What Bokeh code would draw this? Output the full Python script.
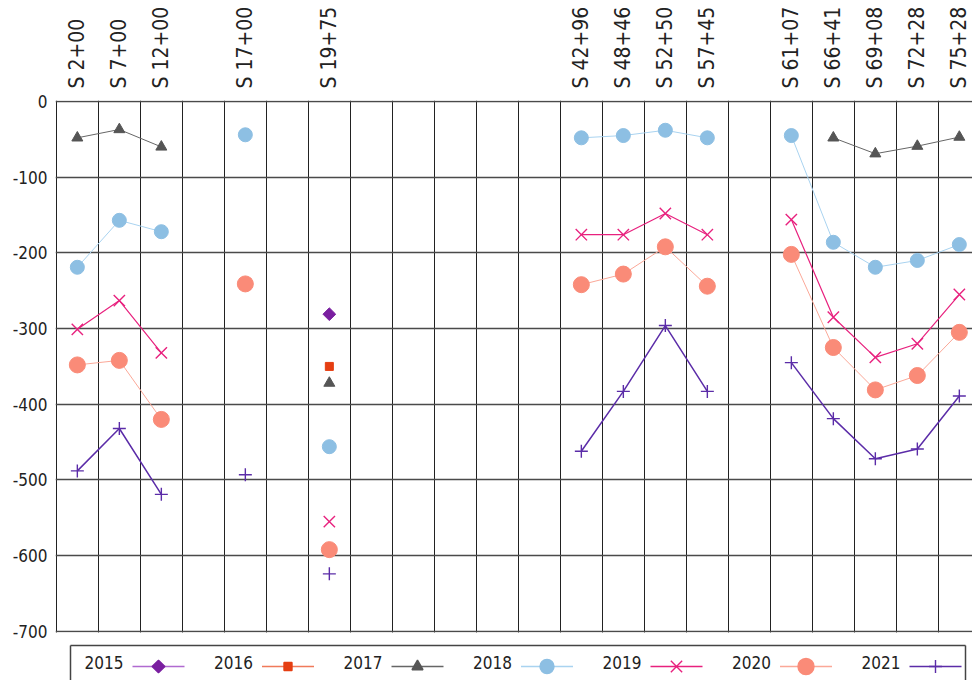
from bokeh.plotting import figure
from bokeh.models import FixedTicker, Range1d, ColumnDataSource
from bokeh.embed import file_html
from bokeh.resources import INLINE
from bokeh.core.properties import value

N = float("nan")

# ---- data ----
stations = ["S 2+00", "S 7+00", "S 12+00", "", "S 17+00", "", "S 19+75",
            "", "", "", "", "", "S 42+96", "S 48+46", "S 52+50", "S 57+45",
            "", "S 61+07", "S 66+41", "S 69+08", "S 72+28", "S 75+28"]
years = ["2015", "2016", "2017", "2018", "2019", "2020", "2021"]
v2015 = [N, N, N, N, N, N, -281, N, N, N, N, N, N, N, N, N, N, N, N, N, N, N]
v2016 = [N, N, N, N, N, N, -350, N, N, N, N, N, N, N, N, N, N, N, N, N, N, N]
v2017 = [-48, -37, -60, N, N, N, -372, N, N, N, N, N, N, N, N, N, N, N, -48, -69, -59, -47]
v2018 = [-219, -157, -172, N, -44, N, -456, N, N, N, N, N, -48, -45, -38, -48, N, -45, -186, -219, -210, -189]
v2019 = [-301, -263, -332, N, -241, N, -555, N, N, N, N, N, -176, -176, -148, -176, N, -156, -285, -338, -320, -255]
v2020 = [-348, -342, -420, N, -241, N, -592, N, N, N, N, N, -242, -228, -192, -244, N, -202, -325, -381, -362, -305]
v2021 = [-488, -432, -519, N, -493, N, -624, N, N, N, N, N, -462, -383, -296, -383, N, -345, -419, -472, -459, -389]
y_ticks = [0, -100, -200, -300, -400, -500, -600, -700]

series = [v2015, v2016, v2017, v2018, v2019, v2020, v2021]

# ---- styles ----
FONT = "DejaVu Sans Condensed, Roboto, sans-serif"
styles = [
    dict(marker="square", angle=0.785398, fill="#7a1fa0", line="#b06ad0", size=9, lw=1.0),
    dict(marker="square", angle=0.0, fill="#e53e12", line="#f07a5a", size=8, lw=1.0),
    dict(marker="triangle", angle=0.0, fill="#555555", line="#666666", size=11, lw=1.0),
    dict(marker="circle", angle=0.0, fill="#8dbfe3", line="#a9d3f0", size=14, lw=1.0),
    dict(marker="x", angle=0.0, fill="#e8217e", line="#e8217e", size=16, lw=1.2),
    dict(marker="circle", angle=0.0, fill="#fa8b78", line="#fba898", size=16, lw=1.0),
    dict(marker="cross", angle=0.0, fill="#5b2ca8", line="#5b2ca8", size=13, lw=1.5),
]

# ---- layout ----
W, H = 972, 680
BL, BT = 55, 100                    # frame left / top offsets in the canvas
SX, SY = 42.0, 0.757                # px per slot, px per unit
X0 = -0.52
X1 = X0 + (W - BL) / SX
Y1 = 1.3
Y0 = Y1 - (H - BT) / SY             # area below -700 holds the legend


def px_x(px):   # canvas px -> data x (legend layout only)
    return X0 + (px - BL) / SX


def px_y(py):   # canvas px -> data y (legend layout only)
    return Y1 - (py - BT) / SY


xs = list(range(len(stations)))

p = figure(width=W, height=H, output_backend="svg", toolbar_location=None,
           x_axis_location="above",
           x_range=Range1d(X0, X1), y_range=Range1d(Y0, Y1),
           min_border_left=BL, min_border_top=BT, min_border_right=0,
           min_border_bottom=0)
p.outline_line_color = None
p.background_fill_color = "white"

p.xaxis.ticker = FixedTicker(ticks=[i for i, s in enumerate(stations) if s])
p.xaxis.major_label_overrides = {i: s for i, s in enumerate(stations) if s}
p.xaxis.major_label_orientation = "vertical"
p.xaxis.axis_line_color = None
p.xaxis.major_tick_line_color = None
p.xaxis.minor_tick_line_color = None
p.xaxis.major_tick_out = 0
p.xaxis.major_tick_in = 0
p.xaxis.minor_tick_out = 0
p.xaxis.major_label_standoff = 12
p.xaxis.major_label_text_font = FONT
p.xaxis.major_label_text_font_size = "21px"
p.xaxis.major_label_text_color = "#222222"

p.yaxis.ticker = FixedTicker(ticks=y_ticks)
p.yaxis.major_label_overrides = {t: str(t) for t in y_ticks}
p.yaxis.axis_line_color = None
p.yaxis.major_tick_line_color = None
p.yaxis.minor_tick_line_color = None
p.yaxis.major_tick_out = 0
p.yaxis.major_tick_in = 0
p.yaxis.minor_tick_out = 0
p.yaxis.major_label_standoff = 8
p.yaxis.major_label_text_font = FONT
p.yaxis.major_label_text_font_size = "17px"
p.yaxis.major_label_text_color = "#222222"

p.xgrid.ticker = FixedTicker(ticks=[i - 0.5 for i in range(len(stations) + 1)])
p.xgrid.grid_line_color = "#222222"
p.xgrid.grid_line_width = 1
p.ygrid.ticker = FixedTicker(ticks=y_ticks)
p.ygrid.grid_line_color = "#4a4a4a"
p.ygrid.grid_line_width = 1.3

# white band hiding the vertical grid lines below the -700 line
p.quad(left=[X0], right=[X1], top=[min(y_ticks) - 1.5], bottom=[Y0],
       fill_color="white", line_color=None)

for vals, st in zip(series, styles):
    src = ColumnDataSource(dict(x=xs, y=vals))
    p.line("x", "y", source=src, line_color=st["line"], line_width=st["lw"])
    if st["marker"] in ("x", "cross"):
        p.scatter("x", "y", source=src, marker=st["marker"], size=st["size"],
                  line_color=st["fill"], line_width=1.4)
    else:
        p.scatter("x", "y", source=src, marker=st["marker"], size=st["size"],
                  angle=st["angle"], fill_color=st["fill"],
                  line_color=st["fill"], line_width=1)

# ---- legend below the grid (label before glyph, as in the reference) ----
box_l, box_r, box_t = px_x(70), px_x(965), px_y(645)
# open-bottom box: the reference's legend box runs past the page edge
p.segment(x0=[box_l, box_l, box_r], y0=[box_t, box_t, box_t],
          x1=[box_r, box_l, box_r], y1=[box_t, Y0, Y0],
          line_color="#444444", line_width=1.5)

step = 129.5
tpx = [84 + step * i for i in range(len(years))]
ty = px_y(662)
gy = px_y(666)
p.text(x=[px_x(t) for t in tpx], y=[ty] * len(years), text=years,
       text_font=value(FONT), text_font_size="17px", text_baseline="middle",
       text_color="#222222")
p.segment(x0=[px_x(t + 48) for t in tpx], y0=[gy] * len(years),
          x1=[px_x(t + 100) for t in tpx], y1=[gy] * len(years),
          line_color=[s["line"] for s in styles], line_width=1.5)
lsrc = ColumnDataSource(dict(
    x=[px_x(t + 74) for t in tpx], y=[gy] * len(years),
    marker=[s["marker"] for s in styles],
    angle=[s["angle"] for s in styles],
    fill=[s["fill"] for s in styles],
    size=[s["size"] for s in styles]))
p.scatter("x", "y", source=lsrc, marker="marker", size="size", angle="angle",
          fill_color="fill", line_color="fill", line_width=1.4)

open("out.html", "w").write(file_html(p, INLINE))
